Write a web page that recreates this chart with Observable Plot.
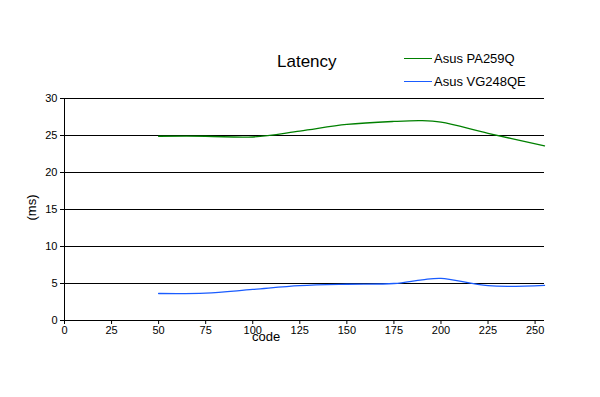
<!DOCTYPE html>
<html><head><meta charset="utf-8">
<script src="https://cdn.jsdelivr.net/npm/d3@7"></script>
<script src="https://cdn.jsdelivr.net/npm/@observablehq/plot@0.6"></script>
<style>
body{margin:0;background:#fff;font-family:"Liberation Sans",Arial,sans-serif;}
#wrap{position:relative;width:600px;height:397px;}
.abs{position:absolute;white-space:nowrap;color:#000;}
.leg{position:absolute;font-size:13px;display:flex;align-items:center;}
.leg span.l{display:inline-block;width:28px;height:0;border-top:1px solid;margin-right:2px;}
</style></head><body>
<div id="wrap"></div>
<script>
const codes = [50, 75, 100, 125, 150, 175, 190, 200, 225, 255];
const pa259q = [24.9, 24.9, 24.8, 25.6, 26.5, 26.9, 27.0, 26.8, 25.3, 23.6];
const vg248qe = [3.65, 3.7, 4.2, 4.7, 4.9, 5.0, 5.5, 5.7, 4.7, 4.75];
const seriesNames = ["Asus PA259Q", "Asus VG248QE"];
const colors = ["#008000", "#1a5cff"];
const xTicks = [0, 25, 50, 75, 100, 125, 150, 175, 200, 225, 250];
const yTicks = [0, 5, 10, 15, 20, 25, 30];

const data = [];
codes.forEach((c, i) => {
  data.push({code: c, ms: pa259q[i], s: seriesNames[0]});
  data.push({code: c, ms: vg248qe[i], s: seriesNames[1]});
});

const plot = Plot.plot({
  width: 600, height: 397,
  marginLeft: 64, marginRight: 56, marginTop: 98, marginBottom: 77,
  style: {fontFamily: '"Liberation Sans", Arial, sans-serif', fontSize: "11px", color: "#000", background: "#fff"},
  x: {domain: [0, 255], ticks: xTicks, label: null},
  y: {domain: [0, 30], ticks: yTicks, label: null},
  color: {domain: seriesNames, range: colors},
  marks: [
    Plot.gridY(yTicks.slice(1), {stroke: "#000", strokeOpacity: 1}),
    Plot.axisY({ticks: yTicks, tickSize: 4, tickPadding: 3, fontSize: 11}),
    Plot.axisX({ticks: xTicks, tickSize: 4, tickPadding: 2, fontSize: 11}),
    Plot.ruleX([0], {stroke: "#000"}),
    Plot.ruleY([0], {stroke: "#000"}),
    Plot.line(data, {x: "code", y: "ms", z: "s", stroke: "s", curve: "catmull-rom", strokeWidth: 1.3})
  ]
});
const wrap = document.getElementById("wrap");
wrap.appendChild(plot);

function addText(txt, x, y, size, extra) {
  const d = document.createElement("div");
  d.className = "abs";
  d.textContent = txt;
  d.style.left = x + "px"; d.style.top = y + "px"; d.style.fontSize = size + "px";
  if (extra) Object.assign(d.style, extra);
  wrap.appendChild(d);
  return d;
}
addText("Latency", 277, 52, 17);
addText("code", 252, 329, 13);
addText("(ms)", 18, 200, 13, {transform: "rotate(-90deg)", transformOrigin: "center"});

seriesNames.forEach((n, i) => {
  const d = document.createElement("div");
  d.className = "leg";
  d.style.left = "404px"; d.style.top = (51 + i * 23) + "px";
  const l = document.createElement("span"); l.className = "l"; l.style.borderColor = colors[i];
  d.appendChild(l);
  d.appendChild(document.createTextNode(n));
  wrap.appendChild(d);
});
</script>
</body></html>
